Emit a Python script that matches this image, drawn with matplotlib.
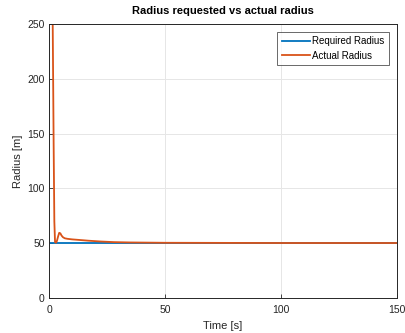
import matplotlib
matplotlib.use("Agg")
import matplotlib.pyplot as plt

plt.rcParams['font.family'] = ['Liberation Sans', 'DejaVu Sans']

time_req = [0, 150]
radius_req = [50, 50]

time_act = [0, 1.2, 1.6, 2.0, 2.3, 2.6, 3.0, 3.4, 3.9, 4.4, 4.9, 5.4, 6.0, 6.8, 8, 10, 13, 17, 22, 28, 35, 50, 75, 100, 150]
radius_act = [1500, 400, 250, 140, 70, 51, 50.5, 52, 56, 59.5, 59, 57, 55.5, 54.5, 54, 53.5, 53, 52.3, 51.6, 51, 50.7, 50.4, 50.3, 50.2, 50.2]

xticks = [0, 50, 100, 150]
yticks = [0, 50, 100, 150, 200, 250]

fig = plt.figure(figsize=(4.06, 3.33), dpi=100)
ax = fig.add_axes([0.1207, 0.105, 0.857, 0.823])

ax.plot(time_req, radius_req, color='#0072BD', lw=1.3, label='Required Radius')
ax.plot(time_act, radius_act, color='#D95319', lw=1.3, label='Actual Radius')

ax.set_xlim(0, 150)
ax.set_ylim(0, 250)
ax.set_xticks(xticks)
ax.set_yticks(yticks)
ax.grid(True, color='#e6e6e6', lw=0.7)
ax.set_axisbelow(True)
for s in ax.spines.values():
    s.set_color('#262626')
    s.set_linewidth(0.7)
ax.tick_params(direction='in', length=3, width=0.6, colors='#262626', labelsize=7.5)
ax.tick_params(axis='x', pad=5)
ax.tick_params(axis='y', pad=3)
ax.set_xlabel('Time [s]', fontsize=8, color='#262626', labelpad=4)
ax.set_ylabel('Radius [m]', fontsize=8, color='#262626', labelpad=3)
ax.set_title('Radius requested vs actual radius', fontsize=8, fontweight='bold', pad=7)

leg = ax.legend(loc='upper right', fontsize=7, frameon=True, fancybox=False,
                edgecolor='#262626', borderpad=0.45, handlelength=2.9, handletextpad=0.25,
                labelspacing=0.45, borderaxespad=0, bbox_to_anchor=(0.977, 0.971))
leg.get_frame().set_linewidth(0.6)

fig.savefig('out.png', dpi=100)
